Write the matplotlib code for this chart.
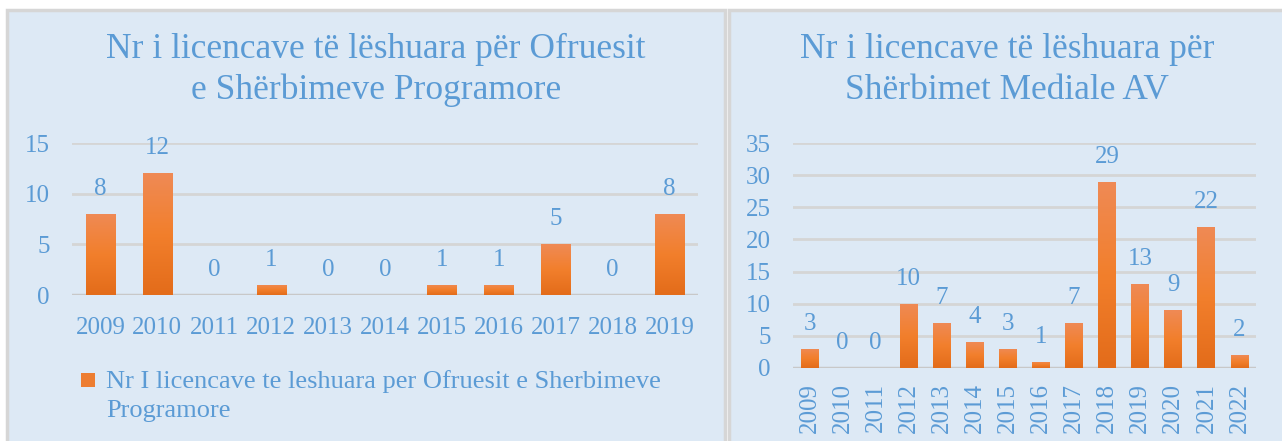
import matplotlib
matplotlib.use("Agg")
import matplotlib.pyplot as plt
from matplotlib.patches import Rectangle
import numpy as np

# left chart: licences for programme service providers
years_left = ["2009", "2010", "2011", "2012", "2013", "2014", "2015", "2016", "2017", "2018", "2019"]
values_left = [8, 12, 0, 1, 0, 0, 1, 1, 5, 0, 8]
title_left = "Nr i licencave të lëshuara për Ofruesit\ne Shërbimeve Programore"
legend_left = "Nr I licencave te leshuara per Ofruesit e Sherbimeve\nProgramore"

# right chart: licences for AV media services
years_right = ["2009", "2010", "2011", "2012", "2013", "2014", "2015", "2016",
               "2017", "2018", "2019", "2020", "2021", "2022"]
values_right = [3, 0, 0, 10, 7, 4, 3, 1, 7, 29, 13, 9, 22, 2]
title_right = "Nr i licencave të lëshuara për\nShërbimet Mediale AV"

W, H = 1282, 441
txt = "#5b9bd5"
bg = "#dde9f5"
orange = "#ed7d31"
grid = "#d5d5d5"
fs = 18

plt.rcParams["font.family"] = ["Liberation Serif", "DejaVu Serif"]

fig = plt.figure(figsize=(W / 100, H / 100), dpi=100)
fig.patch.set_facecolor("white")


def px(x0, y0, x1, y1):
    # pixel box (top-left origin) -> figure fraction rect
    return [x0 / W, 1 - y1 / H, (x1 - x0) / W, (y1 - y0) / H]


# panel backgrounds
for x0, x1 in [(7, 725), (729, 1285)]:
    fig.patches.append(Rectangle((x0 / W, -0.01), (x1 - x0) / W, 1 - 10 / H + 0.01,
                                 transform=fig.transFigure, facecolor=bg,
                                 edgecolor="#d6d6d6", linewidth=2.5, zorder=-5))


def gradient_bars(ax, x, vals, width):
    bars = ax.bar(x, vals, width=width, color=orange, zorder=3)
    grad = np.linspace(0, 1, 100).reshape(-1, 1)
    cmap = matplotlib.colors.LinearSegmentedColormap.from_list(
        "g", ["#e36c1a", "#f27f2c", "#ef8a55"])
    for b in bars:
        if b.get_height() <= 0:
            continue
        x0, y0 = b.get_x(), b.get_y()
        im = ax.imshow(grad, cmap=cmap, aspect="auto", origin="lower",
                       extent=(x0, x0 + b.get_width(), y0, y0 + b.get_height()), zorder=4)
        im.set_clip_path(b)
    return bars


def style(ax, ymax, step):
    ax.set_facecolor("none")
    for s in ax.spines.values():
        s.set_visible(False)
    ax.set_ylim(0, ymax)
    ax.set_yticks(np.arange(0, ymax + 1, step))
    ax.yaxis.grid(True, color=grid, linewidth=2, zorder=0)
    ax.axhline(0, color="#c8c8c8", linewidth=2.5, zorder=2)
    ax.set_axisbelow(True)
    ax.tick_params(length=0, colors=txt, labelsize=fs)
    ax.tick_params(axis="y", pad=16)


# left
axl = fig.add_axes(px(72, 143, 698, 295))
xl = np.arange(len(years_left))
gradient_bars(axl, xl, values_left, 0.51)
style(axl, 15, 5)
axl.set_xlim(-0.5, len(years_left) - 0.5)
axl.set_xticks(xl)
axl.set_xticklabels(years_left)
axl.tick_params(axis="x", pad=16)
for xi, v in zip(xl, values_left):
    axl.annotate(str(v), (xi, v), xytext=(0, 18), textcoords="offset points",
                 ha="center", va="center", color=txt, fontsize=fs)
fig.text(376 / W, 1 - 70 / H, title_left, ha="center", va="center", color=txt,
         fontsize=25.5, linespacing=1.3)
fig.patches.append(Rectangle((81 / W, 1 - 387 / H), 14 / W, 14 / H, transform=fig.transFigure,
                             facecolor=orange, edgecolor="none"))
fig.text(106 / W, 1 - 396 / H, legend_left, ha="left", va="center", color=txt, fontsize=19,
         linespacing=1.45)

# right
axr = fig.add_axes(px(793, 143, 1256, 368))
xr = np.arange(len(years_right))
gradient_bars(axr, xr, values_right, 0.54)
style(axr, 35, 5)
axr.set_xlim(-0.5, len(years_right) - 0.5)
axr.set_xticks(xr)
axr.set_xticklabels(years_right, rotation=90)
axr.tick_params(axis="x", pad=11)
for xi, v in zip(xr, values_right):
    axr.annotate(str(v), (xi, v), xytext=(0, 18), textcoords="offset points",
                 ha="center", va="center", color=txt, fontsize=fs)
fig.text(1007 / W, 1 - 70 / H, title_right, ha="center", va="center", color=txt,
         fontsize=25.5, linespacing=1.3)

fig.savefig("out.png", dpi=100, facecolor=fig.get_facecolor())
